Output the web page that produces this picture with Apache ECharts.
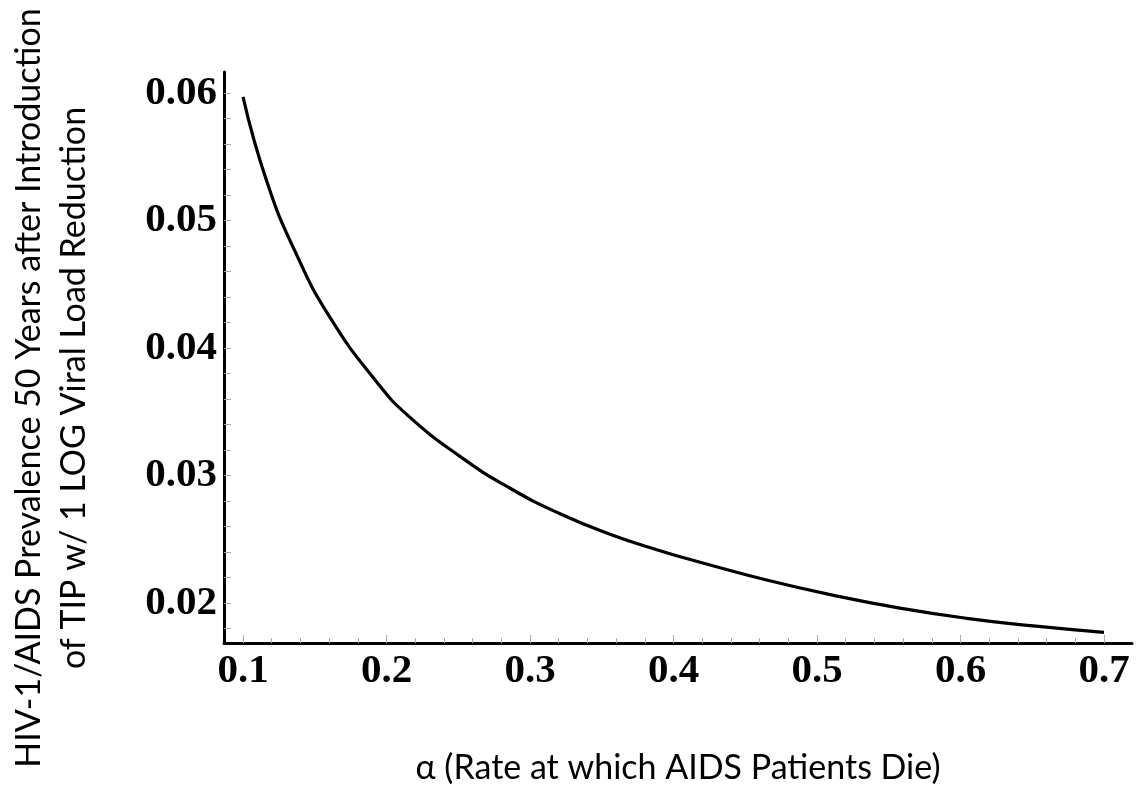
<!DOCTYPE html>
<html>
<head>
<meta charset="utf-8">
<script src="https://cdn.jsdelivr.net/npm/echarts@6/dist/echarts.min.js"></script>
<style>
html,body{margin:0;padding:0;background:#fff;}
#chart{width:1138px;height:793px;}
</style>
</head>
<body>
<div id="chart"></div>
<script>
// alpha values (x) and prevalence values (y)
const alphaValues = [0.1, 0.1165, 0.1362, 0.1606, 0.1941, 0.215, 0.2512, 0.2861, 0.3209, 0.3557, 0.3906, 0.4185, 0.4649, 0.5114, 0.5578, 0.6043, 0.6507, 0.7];
const prevalenceValues = [0.0597, 0.0531, 0.0476, 0.0424, 0.0372, 0.0347, 0.0315, 0.0290, 0.0270, 0.0254, 0.0241, 0.0232, 0.0218, 0.0206, 0.0196, 0.0188, 0.0182, 0.0177];
const xTickLabels = ['0.1', '0.2', '0.3', '0.4', '0.5', '0.6', '0.7'];
const yTickLabels = ['0.02', '0.03', '0.04', '0.05', '0.06'];
const xTitle = 'α (Rate at which AIDS Patients Die)';
const yTitleLines = ['HIV-1/AIDS Prevalence 50 Years after Introduction', 'of TIP w/ 1 LOG Viral Load Reduction'];

const seriesData = alphaValues.map((a, i) => [a, prevalenceValues[i]]);
const tickFont = {fontFamily: 'Liberation Serif', fontWeight: 'bold', fontSize: 41, color: '#000'};
const titleFont = '34px Lato, "Liberation Sans", sans-serif';

const chart = echarts.init(document.getElementById('chart'), null, {renderer: 'canvas'});
chart.setOption({
  backgroundColor: '#fff',
  animation: false,
  grid: [
    {left: 224, right: 6, top: 72, bottom: 150},      // axis lines + curve
    {left: 243, right: 34, top: 72, bottom: 150},     // x ticks/labels (0.1..0.7)
    {left: 224, right: 6, top: 93, bottom: 164.5}     // y ticks/labels (0.018..0.06)
  ],
  xAxis: [
    {gridIndex: 0, type: 'value', min: 0.08676, max: 0.71951,
     axisLine: {show: true, lineStyle: {color: '#000', width: 3}},
     axisTick: {show: false}, axisLabel: {show: false}, splitLine: {show: false}},
    {gridIndex: 1, type: 'value', min: 0.1, max: 0.7, interval: 0.1,
     axisLine: {show: false},
     axisTick: {show: true, inside: true, length: 8, lineStyle: {color: '#aaa', width: 1}},
     minorTick: {show: true, splitNumber: 5, length: 5, lineStyle: {color: '#aaa', width: 1}},
     axisLabel: {show: true, margin: 8, ...tickFont,
       formatter: v => { const s = v.toFixed(1); return xTickLabels.includes(s) ? s : ''; }},
     splitLine: {show: false}},
    {gridIndex: 2, type: 'value', show: false, min: 0, max: 1}
  ],
  yAxis: [
    {gridIndex: 0, type: 'value', min: 0.016863, max: 0.061647,
     axisLine: {show: true, lineStyle: {color: '#000', width: 3}},
     axisTick: {show: false}, axisLabel: {show: false}, splitLine: {show: false}},
    {gridIndex: 1, type: 'value', show: false, min: 0, max: 1},
    {gridIndex: 2, type: 'value', min: 0.018, max: 0.06, interval: 0.002,
     axisLine: {show: false},
     axisTick: {show: true, inside: true, length: 7, lineStyle: {color: '#aaa', width: 1}},
     axisLabel: {show: true, margin: 7, ...tickFont,
       formatter: v => { const s = v.toFixed(2); return (Math.abs(v * 100 - Math.round(v * 100)) < 1e-6 && yTickLabels.includes(s)) ? s : ''; }},
     splitLine: {show: false}}
  ],
  series: [{
    type: 'line', xAxisIndex: 0, yAxisIndex: 0,
    data: seriesData, smooth: 0.5, showSymbol: false, symbol: 'none',
    lineStyle: {color: '#000', width: 3.2}
  }],
  graphic: [
    {type: 'text', x: 52, y: 388, rotation: Math.PI / 2,
     style: {text: yTitleLines.join('\n'), font: titleFont, fill: '#000', align: 'center', verticalAlign: 'middle', lineHeight: 45}},
    {type: 'text', x: 678, y: 768,
     style: {text: xTitle, font: titleFont, fill: '#000', align: 'center', verticalAlign: 'middle'}}
  ]
});
</script>
</body>
</html>
